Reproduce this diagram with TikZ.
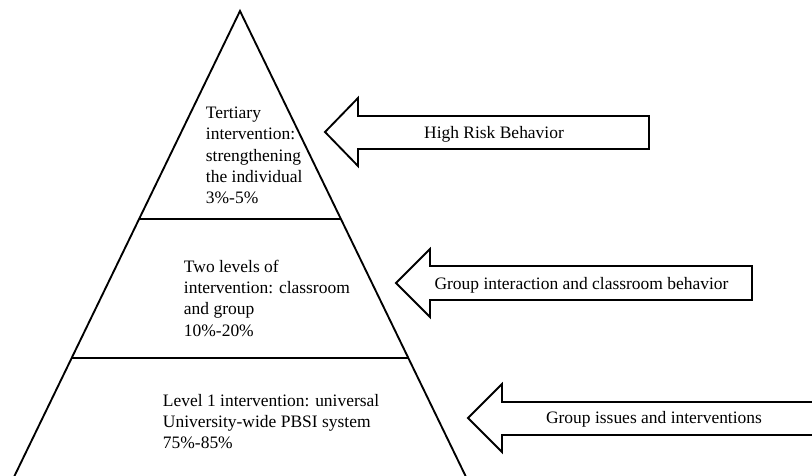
\documentclass[tikz,border=0pt]{standalone}
\usepackage{fontspec}
\setmainfont{Liberation Serif}
\begin{document}
\begin{tikzpicture}[x=0.75pt,y=-0.75pt, line width=1.4pt, line join=miter,
  lbl/.style={inner sep=0pt, font=\fontsize{13.1}{16}\selectfont},
  layertext/.style={lbl, align=left, anchor=north west},
  bigarrow/.style={draw=black, fill=white, line width=1.4pt, line join=miter}]
\useasboundingbox (0,0) rectangle (812,475);
\clip (0,0) rectangle (812,475);
% pyramid
\coordinate (apex) at (240,11);
\coordinate (bl) at (12.5,480);
\coordinate (br) at (467.5,480);
\draw (bl) -- (apex) -- (br);
\coordinate (d1l) at (139,219);
\coordinate (d1r) at (341,219);
\coordinate (d2l) at (72,358);
\coordinate (d2r) at (408,358);
\draw (d1l) -- (d1r);
\draw (d2l) -- (d2r);
% layer texts
\node[layertext] (t1) at (205,106) {Tertiary\\intervention:\\strengthening\\the individual\\3\%-5\%};
\node[layertext] (t2) at (183,259) {Two levels of\\intervention: classroom\\and group\\10\%-20\%};
\node[layertext] (t3) at (162,393) {Level 1 intervention: universal\\University-wide PBSI system\\75\%-85\%};
% arrows
\draw[bigarrow] (325,132) -- (358,98) -- (358,116) -- (649,116) -- (649,149) -- (358,149) -- (358,166) -- cycle;
\node[lbl] (a1) at (494,134) {High Risk Behavior};
\draw[bigarrow] (396,283) -- (430,249) -- (430,266) -- (752,266) -- (752,300) -- (430,300) -- (430,317) -- cycle;
\node[lbl] (a2) at (581.5,285) {Group interaction and classroom behavior};
\draw[bigarrow] (468,418) -- (502,384) -- (502,402) -- (830,402) -- (830,435) -- (502,435) -- (502,452) -- cycle;
\node[lbl] (a3) at (654,419) {Group issues and interventions};
\end{tikzpicture}
\end{document}
